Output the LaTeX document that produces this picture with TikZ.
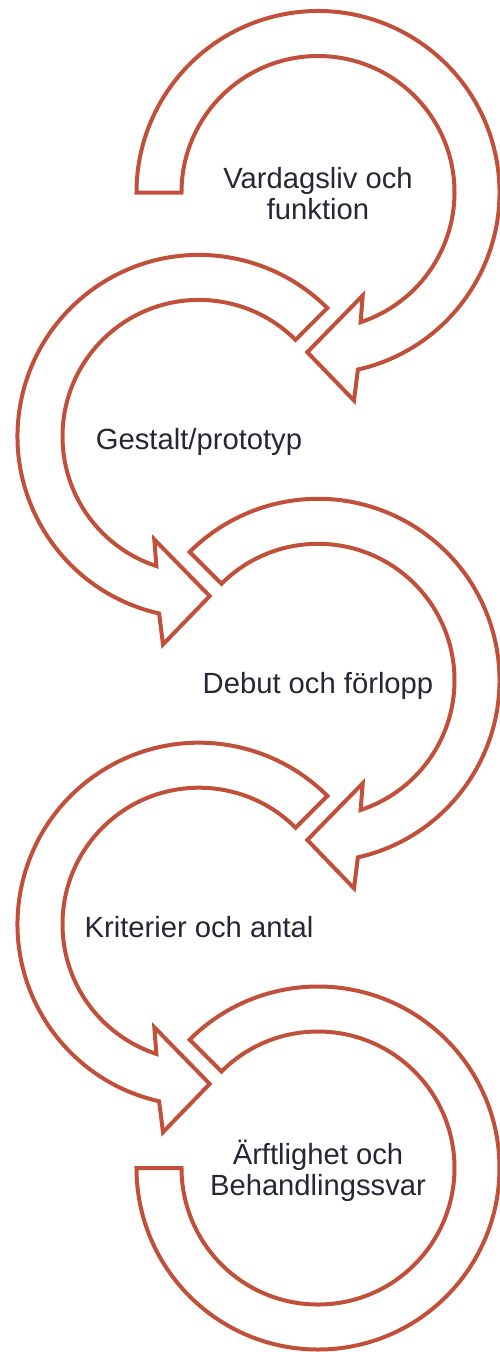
\documentclass[tikz,border=0pt]{standalone}
\usepackage{fontspec}
\setmainfont{Liberation Sans}
\usepackage{tikz}
\usetikzlibrary{arrows.meta}

\definecolor{ringred}{RGB}{192,80,58}
\definecolor{lblgrey}{RGB}{38,38,52}

\begin{document}
\begin{tikzpicture}[x=1pt,y=1pt,
  ring/.style={draw=ringred, line width=4pt, line join=miter},
  lbl/.style={text=lblgrey, font=\fontsize{29.2}{31}\selectfont, align=center}]
  \pgfmathsetmacro{\RIn}{136.5}
  \pgfmathsetmacro{\ROut}{181.5}
  \pgfmathsetmacro{\AIn}{-71.8}
  \pgfmathsetmacro{\AOut}{-77.3}

  \useasboundingbox (0,0) rectangle (500,-1352);

  % centres of the five rings
  \coordinate (c1) at (318,-192.5);
  \coordinate (c2) at (199,-436.4);
  \coordinate (c3) at (318,-680.3);
  \coordinate (c4) at (199,-924.2);
  \coordinate (c5) at (318,-1168);

  % right hand arrows, clockwise
  \draw[ring,shift={(c1)}] (180:\ROut) -- (180:\RIn) arc (180:\AIn:\RIn)
    -- (44.7,-103) -- (-10.7,-159.7) -- (36,-208) -- (\AOut:\ROut)
    arc (\AOut:180:\ROut) -- cycle;
  \draw[ring,shift={(c3)}] (135:\ROut) -- (135:\RIn) arc (135:\AIn:\RIn)
    -- (44.7,-103) -- (-10.7,-159.7) -- (36,-208) -- (\AOut:\ROut)
    arc (\AOut:135:\ROut) -- cycle;

  % left hand arrows, counter clockwise
  \draw[ring,shift={(c2)}] (45:\ROut) -- (45:\RIn) arc (45:180-\AIn:\RIn)
    -- (-44.7,-103) -- (10.7,-159.7) -- (-36,-208) -- (180-\AOut:\ROut)
    arc (180-\AOut:45:\ROut) -- cycle;
  \draw[ring,shift={(c4)}] (45:\ROut) -- (45:\RIn) arc (45:180-\AIn:\RIn)
    -- (-44.7,-103) -- (10.7,-159.7) -- (-36,-208) -- (180-\AOut:\ROut)
    arc (180-\AOut:45:\ROut) -- cycle;

  % last one has no head
  \draw[ring,shift={(c5)}] (135:\ROut) -- (135:\RIn) arc (135:-180:\RIn)
    -- (-180:\ROut) arc (-180:135:\ROut) -- cycle;

  \node[lbl, yshift=-1.4] (vardag) at (c1) {Vardagsliv och\\funktion};
  \node[lbl, anchor=base, yshift=-13] (gestalt) at (c2) {Gestalt/prototyp};
  \node[lbl, anchor=base, yshift=-13] (debut) at (c3) {Debut och förlopp};
  \node[lbl, anchor=base, yshift=-13] (krit) at (c4) {Kriterier och antal};
  \node[lbl, yshift=-2.6] (arft) at (c5) {Ärftlighet och\\Behandlingssvar};
\end{tikzpicture}
\end{document}
